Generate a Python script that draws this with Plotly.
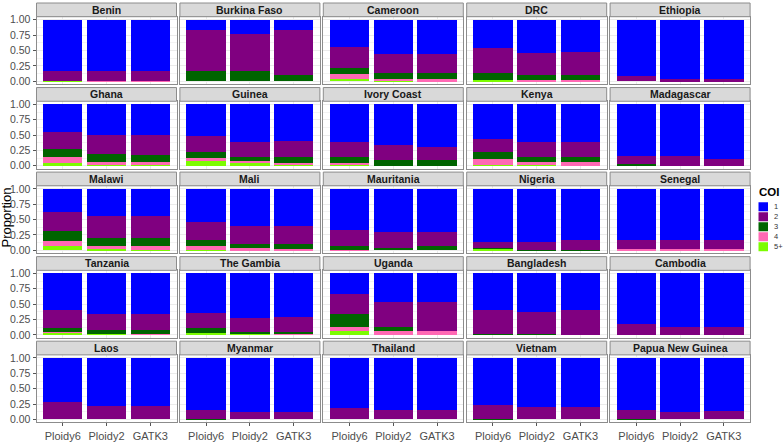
import plotly.graph_objects as go

countries = ["Benin", "Burkina Faso", "Cameroon", "DRC", "Ethiopia",
             "Ghana", "Guinea", "Ivory Coast", "Kenya", "Madagascar",
             "Malawi", "Mali", "Mauritania", "Nigeria", "Senegal",
             "Tanzania", "The Gambia", "Uganda", "Bangladesh", "Cambodia",
             "Laos", "Myanmar", "Thailand", "Vietnam", "Papua New Guinea"]
methods = ["Ploidy6", "Ploidy2", "GATK3"]
coi_labels = ["1", "2", "3", "4", "5+"]
coi_colors = ["#0000FF", "#800080", "#006400", "#FF69B4", "#7CFC00"]

# proportions per country: (Ploidy6, Ploidy2, GATK3)
coi_1 = [
    0.84, 0.84, 0.84,      # Benin
    0.17, 0.23, 0.17,      # Burkina Faso
    0.45, 0.55, 0.55,      # Cameroon
    0.465, 0.54, 0.52,     # DRC
    0.91, 0.97, 0.97,      # Ethiopia
    0.45, 0.50, 0.50,      # Ghana
    0.52, 0.61, 0.604,     # Guinea
    0.615, 0.665, 0.70,    # Ivory Coast
    0.567, 0.61, 0.61,     # Kenya
    0.84, 0.84, 0.89,      # Madagascar
    0.38, 0.44, 0.45,      # Malawi
    0.54, 0.604, 0.604,    # Mali
    0.67, 0.706, 0.706,    # Mauritania
    0.866, 0.866, 0.84,    # Nigeria
    0.824, 0.834, 0.834,   # Senegal
    0.60, 0.66, 0.66,      # Tanzania
    0.65, 0.718, 0.702,    # The Gambia
    0.335, 0.468, 0.468,   # Uganda
    0.596, 0.628, 0.596,   # Bangladesh
    0.83, 0.867, 0.867,    # Cambodia
    0.714, 0.783, 0.783,   # Laos
    0.852, 0.873, 0.884,   # Myanmar
    0.82, 0.852, 0.841,    # Thailand
    0.773, 0.804, 0.804,   # Vietnam
    0.852, 0.884, 0.868,   # Papua New Guinea
]
coi_2 = [
    0.15, 0.15, 0.15,
    0.67, 0.61, 0.725,
    0.33, 0.315, 0.315,
    0.405, 0.36, 0.38,
    0.09, 0.03, 0.03,
    0.28, 0.31, 0.33,
    0.255, 0.24, 0.256,
    0.245, 0.24, 0.205,
    0.208, 0.245, 0.246,
    0.125, 0.16, 0.11,
    0.305, 0.357, 0.347,
    0.30, 0.289, 0.30,
    0.266, 0.251, 0.23,
    0.097, 0.124, 0.15,
    0.161, 0.151, 0.151,
    0.29, 0.265, 0.26,
    0.233, 0.229, 0.245,
    0.33, 0.404, 0.468,
    0.394, 0.362, 0.404,
    0.165, 0.133, 0.133,
    0.286, 0.217, 0.217,
    0.138, 0.127, 0.116,
    0.18, 0.148, 0.159,
    0.217, 0.196, 0.196,
    0.143, 0.116, 0.132,
]
coi_3 = [
    0.0, 0.0, 0.0,
    0.16, 0.16, 0.105,
    0.11, 0.095, 0.10,
    0.11, 0.085, 0.085,
    0.0, 0.0, 0.0,
    0.12, 0.125, 0.105,
    0.105, 0.075, 0.09,
    0.10, 0.095, 0.095,
    0.118, 0.08, 0.08,
    0.035, 0.0, 0.0,
    0.17, 0.128, 0.14,
    0.096, 0.077, 0.069,
    0.054, 0.043, 0.064,
    0.01, 0.01, 0.01,
    0.0, 0.0, 0.0,
    0.057, 0.054, 0.064,
    0.08, 0.037, 0.037,
    0.207, 0.064, 0.0,
    0.01, 0.01, 0.0,
    0.005, 0.0, 0.0,
    0.0, 0.0, 0.0,
    0.01, 0.0, 0.0,
    0.0, 0.0, 0.0,
    0.01, 0.0, 0.0,
    0.005, 0.0, 0.0,
]
coi_4 = [
    0.0, 0.01, 0.01,
    0.0, 0.0, 0.0,
    0.073, 0.035, 0.03,
    0.0, 0.015, 0.015,
    0.0, 0.0, 0.0,
    0.10, 0.05, 0.055,
    0.035, 0.035, 0.03,
    0.02, 0.0, 0.0,
    0.087, 0.055, 0.064,
    0.0, 0.0, 0.0,
    0.075, 0.048, 0.054,
    0.054, 0.025, 0.027,
    0.01, 0.0, 0.0,
    0.0, 0.0, 0.0,
    0.015, 0.015, 0.015,
    0.026, 0.005, 0.016,
    0.01, 0.0, 0.016,
    0.07, 0.064, 0.064,
    0.0, 0.0, 0.0,
    0.0, 0.0, 0.0,
    0.0, 0.0, 0.0,
    0.0, 0.0, 0.0,
    0.0, 0.0, 0.0,
    0.0, 0.0, 0.0,
    0.0, 0.0, 0.0,
]
coi_5plus = [
    0.01, 0.0, 0.0,
    0.0, 0.0, 0.0,
    0.037, 0.005, 0.005,
    0.02, 0.0, 0.0,
    0.0, 0.0, 0.0,
    0.05, 0.015, 0.01,
    0.085, 0.04, 0.02,
    0.02, 0.0, 0.0,
    0.02, 0.01, 0.0,
    0.0, 0.0, 0.0,
    0.07, 0.027, 0.01,
    0.01, 0.005, 0.0,
    0.0, 0.0, 0.0,
    0.027, 0.0, 0.0,
    0.0, 0.0, 0.0,
    0.027, 0.016, 0.0,
    0.027, 0.016, 0.0,
    0.058, 0.0, 0.0,
    0.0, 0.0, 0.0,
    0.0, 0.0, 0.0,
    0.0, 0.0, 0.0,
    0.0, 0.0, 0.0,
    0.0, 0.0, 0.0,
    0.0, 0.0, 0.0,
    0.0, 0.0, 0.0,
]
y_ticks = [0, 0.25, 0.5, 0.75, 1.0]
y_tick_labels = ["0.00", "0.25", "0.50", "0.75", "1.00"]

series = [coi_1, coi_2, coi_3, coi_4, coi_5plus]

W, H = 784, 442
FONT = "Liberation Sans"
ncol, nrow = 5, 5
col_left0, col_step, panel_w = 36.5, 143.4, 140.0
row_top0, row_step, panel_h, strip_h = 14.0, 86.3, 69.0, 14.0

fig = go.Figure()
shapes, annotations = [], []
layout_axes = {}

def px(x):
    return x / W

def py(y):
    return 1 - y / H

# stacking order: 5+ at bottom, 1 on top
stack_order = [4, 3, 2, 1, 0]
for i, country in enumerate(countries):
    r, c = divmod(i, ncol)
    n = i + 1
    xa = "x" if n == 1 else f"x{n}"
    ya = "y" if n == 1 else f"y{n}"
    for k in stack_order:
        vals = series[k][3 * i:3 * i + 3]
        fig.add_trace(go.Bar(
            x=methods, y=vals, name=coi_labels[k],
            marker=dict(color=coi_colors[k], line=dict(width=0)),
            xaxis=xa, yaxis=ya, showlegend=False, hoverinfo="x+y+name"))
    x0 = col_left0 + c * col_step
    x1 = x0 + panel_w
    top = row_top0 + r * row_step
    bot = top + panel_h
    key = "" if n == 1 else str(n)
    layout_axes["xaxis" + key] = dict(
        domain=[px(x0), px(x1)], anchor=ya, range=[-0.6, 2.6],
        showgrid=True, gridcolor="#EBEBEB", gridwidth=1,
        showline=True, mirror=True, linecolor="#8C8C8C", linewidth=1,
        zeroline=False, fixedrange=True,
        showticklabels=(r == nrow - 1),
        ticks="outside" if r == nrow - 1 else "", ticklen=3, tickcolor="#555",
        tickfont=dict(family=FONT, size=11, color="#4D4D4D"),
        categoryorder="array", categoryarray=methods)
    layout_axes["yaxis" + key] = dict(
        domain=[py(bot), py(top)], anchor=xa, range=[-0.05, 1.05],
        tickvals=y_ticks, ticktext=y_tick_labels,
        showgrid=True, gridcolor="#EBEBEB", gridwidth=1,
        minor=dict(tickvals=[0.125, 0.375, 0.625, 0.875], showgrid=True,
                   gridcolor="#F3F3F3", gridwidth=0.6),
        showline=True, mirror=True, linecolor="#8C8C8C", linewidth=1,
        zeroline=False, fixedrange=True,
        showticklabels=(c == 0),
        ticks="outside" if c == 0 else "", ticklen=3, tickcolor="#555",
        tickfont=dict(family=FONT, size=10.5, color="#4D4D4D"))
    # strip
    shapes.append(dict(type="rect", xref="paper", yref="paper",
                       x0=px(x0), x1=px(x1), y0=py(top), y1=py(top - strip_h),
                       fillcolor="#D9D9D9", line=dict(color="#8C8C8C", width=1),
                       layer="above"))
    annotations.append(dict(text=f"<b>{country}</b>", xref="paper", yref="paper",
                            x=px((x0 + x1) / 2), y=py(top - strip_h / 2),
                            showarrow=False, xanchor="center", yanchor="middle",
                            font=dict(family=FONT, size=10.5, color="#1A1A1A")))

annotations.append(dict(text="Proportion", xref="paper", yref="paper",
                        x=px(7.0), y=py(219), textangle=-90, showarrow=False,
                        xanchor="center", yanchor="middle",
                        font=dict(family=FONT, size=13, color="#000")))

# legend (compact, ggplot-style)
annotations.append(dict(text="<b>COI</b>", xref="paper", yref="paper",
                        x=px(757), y=py(193), showarrow=False,
                        xanchor="left", yanchor="middle",
                        font=dict(family=FONT, size=11.5, color="#000")))
key_h = 10.2
for j, (lab, col) in enumerate(zip(coi_labels, coi_colors)):
    yc = 208 + j * key_h
    shapes.append(dict(type="rect", xref="paper", yref="paper",
                       x0=px(758.5), x1=px(768), y0=py(yc + 4.6), y1=py(yc - 4.6),
                       fillcolor=col, line=dict(width=0)))
    annotations.append(dict(text=lab, xref="paper", yref="paper",
                            x=px(771.5), y=py(yc), showarrow=False,
                            xanchor="left", yanchor="middle",
                            font=dict(family=FONT, size=7.5, color="#333")))

fig.update_layout(
    width=W, height=H, barmode="stack", bargap=0.1,
    margin=dict(l=0, r=0, t=0, b=0),
    paper_bgcolor="white", plot_bgcolor="white",
    font=dict(family=FONT), showlegend=False,
    shapes=shapes, annotations=annotations,
    **layout_axes)

fig.write_html("out.html", config={"displayModeBar": False},
               post_script="document.body.style.margin='0';document.body.style.overflow='hidden';")
